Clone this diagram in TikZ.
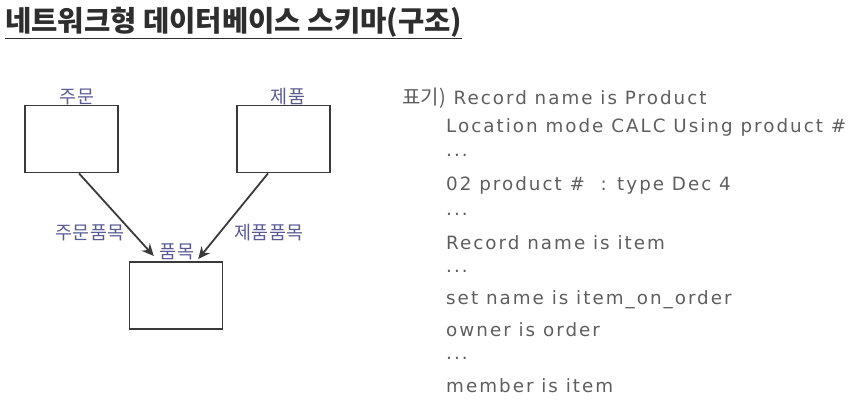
\documentclass[tikz,border=0pt]{standalone}
\usepackage{fontspec}
\setmainfont{DejaVu Sans}
\newfontfamily\kr{Noto Sans CJK KR}
\newfontfamily\lat{DejaVu Sans}[LetterSpace=11]
\usetikzlibrary{arrows.meta}
\definecolor{boxline}{HTML}{3A3A3A}
\definecolor{lbl}{HTML}{5A5A96}
\definecolor{txt}{HTML}{5E5E5E}
\definecolor{ttl}{HTML}{2E2E2E}
\begin{document}
\begin{tikzpicture}[x=1pt,y=-1pt,
  rec/.style={draw=boxline,line width=1.8pt,fill=white,minimum width=93pt,minimum height=67pt,inner sep=0pt},
  klabel/.style={font=\kr\fontsize{18.5}{18.5}\selectfont,text=lbl,inner sep=0pt},
  codeline/.style={anchor=west,font=\lat\fontsize{18.3}{18.3}\selectfont,text=txt,inner sep=0pt},
  link/.style={draw=boxline,line width=1.8pt,-{Stealth[length=12pt,width=11pt]}}]
\useasboundingbox (0,0) rectangle (850,404);
% title
\node[anchor=west,inner sep=0pt,text=ttl,font=\kr\bfseries\fontsize{28.6}{28.6}\selectfont] (title) at (5,22) {네트워크형 데이터베이스 스키마(구조)};
\draw[ttl,line width=1.7pt] (5,38.5) -- (title.east|-0,38.5);
% boxes
\node[rec] (order) at (71.5,139) {};
\node[rec] (product) at (283.5,139) {};
\node[rec] (item) at (176,295.5) {};
% labels
\node[klabel] (orderlbl) at (77,97) {주문};
\node[klabel] (productlbl) at (288,97) {제품};
\node[klabel] (itemlbl) at (177,252) {품목};
\node[klabel] (oilbl) at (90,233) {주문품목};
\node[klabel] (pilbl) at (269,233) {제품품목};
% connectors
\coordinate (os) at ([xshift=7.5pt]order.south);
\coordinate (ps) at ([xshift=-15.5pt]product.south);
\draw[link] (os) -- ([xshift=-6pt,yshift=-4pt]itemlbl.west);
\draw[link] (ps) -- ([xshift=4pt,yshift=-7pt]itemlbl.east);
% text
\node[codeline] (l0) at (402,98) {{\kr\fontsize{20}{20}\selectfont 표기)}\ Record name is Product};
\node[codeline] (l1) at (446,127) {Location mode CALC Using product \#};
\node[codeline] (l2) at (446,155) {...};
\node[codeline] (l3) at (446,185) {02 product \#\ \ : type Dec 4};
\node[codeline] (l4) at (446,214) {...};
\node[codeline] (l5) at (446,243) {Record name is item};
\node[codeline] (l6) at (446,271) {...};
\node[codeline] (l7) at (446,300) {set name is item\_on\_order};
\node[codeline] (l8) at (446,330) {owner is order};
\node[codeline] (l9) at (446,358) {...};
\node[codeline] (l10) at (446,386) {member is item};
\end{tikzpicture}
\end{document}
